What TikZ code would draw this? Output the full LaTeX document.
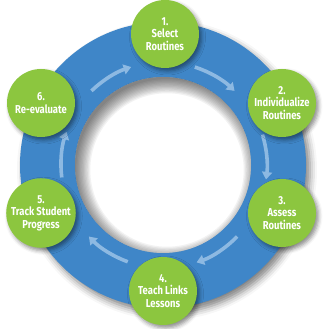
\documentclass[tikz,border=0pt]{standalone}
\usepackage{fontspec}
\setmainfont{Fira Sans}[FakeStretch=0.82]
\usetikzlibrary{shadows.blur,arrows.meta,calc}
\definecolor{ringblue}{HTML}{3F86C8}
\definecolor{leaf}{HTML}{8CC63F}
\definecolor{arrblue}{HTML}{8DB9E2}
\begin{document}
\begin{tikzpicture}[x=1pt,y=1pt,
  stepnode/.style={circle,fill=leaf,minimum size=68pt,inner sep=0pt,align=center,
    text=white,font=\fontsize{11.5}{12.6}\selectfont\bfseries,
    blur shadow={shadow xshift=2.5pt,shadow yshift=-3pt,shadow blur radius=4pt,shadow opacity=45}},
  flowarrow/.style={draw=arrblue,line width=3.6pt,-{Triangle[length=7.5pt,width=10pt]}}]
\useasboundingbox (0,0) rectangle (326,329);
\coordinate (c) at (163,164);
\coordinate (cs) at (167,159);
\fill[ringblue,
  blur shadow={shadow xshift=4pt,shadow yshift=-5pt,shadow blur radius=7pt,shadow opacity=50}]
  (c) circle[radius=143];
\fill[white] (c) circle[radius=88];
\begin{scope}
  \clip (c) circle[radius=88];
  \foreach \k in {0,...,11}{
    \fill[black,opacity=0.05,even odd rule] (cs) circle[radius=110] (cs) circle[radius=91-1.3*\k];
  }
\end{scope}
\draw[flowarrow] ($(c)+(134:103)$) arc[start angle=134,end angle=108,radius=103];
\draw[flowarrow] ($(c)+(72:103)$) arc[start angle=72,end angle=46,radius=103];
\draw[flowarrow] ($(c)+(17:104)$) arc[start angle=17,end angle=-8,radius=104];
\draw[flowarrow] ($(c)+(-44:103)$) arc[start angle=-44,end angle=-71,radius=103];
\draw[flowarrow] ($(c)+(-110:103)$) arc[start angle=-110,end angle=-136,radius=103];
\draw[flowarrow] ($(c)+(187:102)$) arc[start angle=187,end angle=161,radius=102];
\node[stepnode] (n1) at (165,295) {1.\\Select\\Routines};
\node[stepnode] (n2) at (282,226) {2.\\Individualize\\Routines};
\node[stepnode] (n3) at (282,116) {3.\\Assess\\Routines};
\node[stepnode] (n4) at (163,38) {4.\\Teach Links\\Lessons};
\node[stepnode] (n5) at (41,116) {5.\\Track Student\\Progress};
\node[stepnode] (n6) at (41,226) {6.\\Re-evaluate};
\end{tikzpicture}
\end{document}
